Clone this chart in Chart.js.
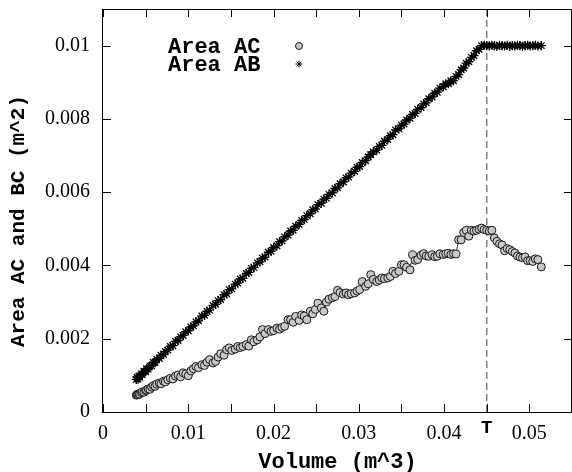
<!DOCTYPE html>
<html><head><meta charset="utf-8">
<script src="https://cdn.jsdelivr.net/npm/chart.js@4/dist/chart.umd.min.js"></script>
<style>html,body{margin:0;padding:0;background:#fff;}#wrap{width:572px;height:472px;position:relative;}</style>
</head><body><div id="wrap"><canvas id="c" width="572" height="472"></canvas></div>
<script>
// ---- data ----
const volume = [
0.0039,0.0040,0.0041,0.0042,0.0043,0.0045,0.0046,0.0048,0.0050,0.0051,0.0053,0.0055,0.0057,0.0059,0.0061,0.0063,0.0066,0.0068,0.0071,0.0073,0.0076,0.0079,0.0082,0.0085,0.0088,0.0091,0.0094,0.0097,0.0100,0.0103,
0.0106,0.0109,0.0112,0.0116,0.0119,0.0122,0.0125,0.0129,0.0132,0.0135,0.0138,0.0142,0.0145,0.0148,0.0151,0.0155,0.0158,0.0161,0.0164,0.0168,
0.0171,0.0174,0.0177,0.0181,0.0184,0.0187,0.0190,0.0194,0.0197,0.0200,0.0204,0.0207,0.0210,0.0213,0.0217,0.0220,0.0223,0.0226,0.0230,0.0233,
0.0236,0.0239,0.0243,0.0246,0.0249,0.0252,0.0256,0.0259,0.0262,0.0265,0.0269,0.0272,0.0275,0.0278,0.0282,0.0285,0.0288,0.0291,0.0295,0.0298,
0.0301,0.0304,0.0308,0.0311,0.0314,0.0317,0.0321,0.0324,0.0327,0.0330,0.0334,0.0337,0.0340,0.0343,0.0347,0.0350,0.0353,0.0356,0.0360,0.0363,
0.0366,0.0369,0.0373,0.0376,0.0379,0.0382,0.0386,0.0389,0.0392,0.0395,0.0399,0.0402,0.0405,0.0408,0.0411,0.0414,0.0417,0.0420,0.0423,0.0426,
0.0429,0.0432,0.0435,0.0438,0.0441,0.0444,0.0447,0.0450,0.0453,0.0456,0.0459,0.0462,0.0465,0.0468,0.0471,0.0474,0.0477,0.0480,0.0483,0.0486,
0.0489,0.0492,0.0495,0.0498,0.0501,0.0504,0.0507,0.0510,0.0514
];
const areaAC = [
0.00046,0.00048,0.00047,0.00050,0.00049,0.00053,0.00055,0.00054,0.00058,0.00060,0.00063,0.00062,0.00068,0.00072,0.00070,0.00076,0.00079,0.00077,0.00084,0.00082,0.00088,0.00092,0.00090,0.00098,0.00101,0.00096,0.00107,0.00104,0.00099,0.00112,
0.00118,0.00124,0.00121,0.00129,0.00127,0.00136,0.00143,0.00134,0.00138,0.00150,0.00159,0.00155,0.00170,0.00175,0.00168,0.00172,0.00179,0.00176,0.00179,0.00184,
0.00180,0.00197,0.00192,0.00197,0.00205,0.00225,0.00214,0.00225,0.00220,0.00222,0.00229,0.00226,0.00231,0.00234,0.00252,0.00252,0.00245,0.00261,0.00250,0.00265,
0.00262,0.00252,0.00275,0.00268,0.00280,0.00297,0.00284,0.00275,0.00300,0.00308,0.00312,0.00315,0.00332,0.00326,0.00322,0.00325,0.00320,0.00323,0.00325,0.00330,
0.00334,0.00356,0.00343,0.00350,0.00375,0.00362,0.00356,0.00360,0.00366,0.00364,0.00366,0.00370,0.00384,0.00378,0.00384,0.00402,0.00402,0.00395,0.00388,0.00429,
0.00414,0.00416,0.00428,0.00432,0.00426,0.00425,0.00429,0.00424,0.00425,0.00432,0.00430,0.00432,0.00433,0.00430,0.00432,0.00431,0.00470,0.00470,0.00490,0.00496,
0.00480,0.00496,0.00494,0.00496,0.00499,0.00502,0.00498,0.00496,0.00494,0.00496,0.00475,0.00466,0.00459,0.00456,0.00440,0.00446,0.00443,0.00438,0.00434,0.00426,
0.00423,0.00421,0.00423,0.00413,0.00413,0.00411,0.00418,0.00416,0.00396
];
const areaAB = [
0.00089,0.00095,0.00090,0.00098,0.00095,0.00104,0.00102,0.00111,0.00110,0.00118,0.00117,0.00126,0.00126,0.00135,0.00135,0.00144,0.00146,0.00155,0.00157,0.00165,0.00169,0.00179,0.00181,0.00193,0.00195,0.00205,0.00209,0.00219,0.00222,0.00232,
0.00235,0.00246,0.00249,0.00262,0.00264,0.00275,0.00278,0.00291,0.00294,0.00304,0.00307,0.00320,0.00323,0.00334,0.00336,0.00349,0.00352,0.00363,0.00365,0.00378,
0.00381,0.00392,0.00394,0.00407,0.00410,0.00420,0.00423,0.00436,0.00439,0.00449,0.00454,0.00465,0.00467,0.00478,0.00483,0.00494,0.00496,0.00507,0.00512,0.00523,
0.00525,0.00536,0.00541,0.00552,0.00554,0.00566,0.00570,0.00581,0.00583,0.00594,0.00598,0.00610,0.00612,0.00623,0.00628,0.00639,0.00641,0.00652,0.00657,0.00668,
0.00670,0.00681,0.00686,0.00696,0.00703,0.00710,0.00715,0.00725,0.00728,0.00739,0.00744,0.00754,0.00757,0.00770,0.00773,0.00783,0.00786,0.00797,0.00802,0.00812,
0.00815,0.00826,0.00831,0.00841,0.00844,0.00855,0.00860,0.00870,0.00873,0.00884,0.00888,0.00896,0.00896,0.00904,0.00904,0.00916,0.00921,0.00934,0.00939,0.00952,
0.00956,0.00968,0.00973,0.00986,0.00990,0.01000,0.01001,0.01000,0.00999,0.01001,0.01000,0.00998,0.01001,0.01000,0.00999,0.01001,0.00998,0.01000,0.00999,0.01001,
0.01000,0.00998,0.01000,0.01001,0.00999,0.01000,0.01001,0.00999,0.01000
];
const transitionVolume = 0.045;           // dashed line "T"
const xTickValues = [0,0.005,0.01,0.015,0.02,0.025,0.03,0.035,0.04,0.045,0.05];
const xTickLabels = ['0','','0.01','','0.02','','0.03','','0.04','T','0.05'];
const yTickValues = [0,0.002,0.004,0.006,0.008,0.01];
const yTickLabels = ['0','0.002','0.004','0.006','0.008','0.01'];
const seriesNames = ['Area AC','Area AB'];
const xTitle = 'Volume (m^3)';
const yTitle = 'Area AC and BC (m^2)';

const MONO = '"Liberation Mono","DejaVu Sans Mono",monospace';
const SERIF = '"Liberation Serif","DejaVu Serif",serif';

const acStyle = {pointStyle:'circle', radius:4, backgroundColor:'#c8c8c8', borderColor:'#1a1a1a', borderWidth:1};
const abStyle = {pointStyle:'star', radius:4.6, backgroundColor:'#000', borderColor:'#000', borderWidth:1.3};

const framePlugin = {
  id:'frame',
  afterDatasetsDraw(chart){
    const {ctx, chartArea:a, scales:{x, y}} = chart;
    ctx.save();
    ctx.strokeStyle = '#000';
    ctx.lineWidth = 1;
    ctx.beginPath();
    xTickValues.forEach(v => {
      const px = Math.round(x.getPixelForValue(v)) + 0.5;
      ctx.moveTo(px, a.bottom); ctx.lineTo(px, a.bottom - 8);
      ctx.moveTo(px, a.top); ctx.lineTo(px, a.top + 8);
    });
    yTickValues.forEach(v => {
      const py = Math.round(y.getPixelForValue(v)) + 0.5;
      ctx.moveTo(a.left, py); ctx.lineTo(a.left + 8, py);
      ctx.moveTo(a.right, py); ctx.lineTo(a.right - 8, py);
    });
    ctx.stroke();
    ctx.strokeRect(a.left - 0.5, a.top + 0.5, a.right - a.left, a.bottom - a.top);
    // legend
    ctx.font = 'bold 22px ' + MONO;
    ctx.fillStyle = '#000';
    ctx.textAlign = 'left';
    ctx.textBaseline = 'middle';
    const lx = 168, mx = 299, ly = [46, 64];
    [acStyle, abStyle].forEach((st, i) => {
      ctx.fillText(seriesNames[i], lx, ly[i] + 1);
      ctx.fillStyle = st.backgroundColor; ctx.strokeStyle = st.borderColor; ctx.lineWidth = 1;
      Chart.helpers.drawPoint(ctx, {pointStyle:st.pointStyle, radius:3.5, borderWidth:1, rotation:0}, mx, ly[i]);
      ctx.fillStyle = '#000';
    });
    // y axis title (rotated)
    ctx.save();
    ctx.font = 'bold 21px ' + MONO;
    ctx.textAlign = 'center';
    ctx.translate(19, 221);
    ctx.rotate(-Math.PI / 2);
    ctx.fillText(yTitle, 0, 0);
    ctx.restore();
    ctx.restore();
  }
};

function noPad(s){ s.paddingTop = 0; s.paddingBottom = 0; s.paddingLeft = 0; s.paddingRight = 0; }

new Chart(document.getElementById('c').getContext('2d'), {
  type:'scatter',
  data:{datasets:[
    {label:seriesNames[0], data:volume.map((v,i)=>({x:v, y:areaAC[i]})), showLine:true,
     borderColor:'#000', borderWidth:0.8, pointStyle:acStyle.pointStyle, pointRadius:acStyle.radius,
     pointBackgroundColor:acStyle.backgroundColor, pointBorderColor:acStyle.borderColor, pointBorderWidth:acStyle.borderWidth, order:2},
    {label:seriesNames[1], data:volume.map((v,i)=>({x:v, y:areaAB[i]})), showLine:true,
     borderColor:'#000', borderWidth:0.8, pointStyle:abStyle.pointStyle, pointRadius:abStyle.radius,
     pointBackgroundColor:'#000', pointBorderColor:abStyle.borderColor, pointBorderWidth:abStyle.borderWidth, order:1},
    {type:'line', label:'T', data:[{x:transitionVolume, y:0},{x:transitionVolume, y:0.011}],
     borderColor:'#808080', borderDash:[7,4], borderWidth:1.5, pointRadius:0, order:3}
  ]},
  options:{
    responsive:false, animation:false, devicePixelRatio:1,
    layout:{autoPadding:false, padding:{left:0, top:9, right:0, bottom:0}},
    plugins:{legend:{display:false}, tooltip:{enabled:false}},
    scales:{
      x:{type:'linear', min:0, max:0.055,
        grid:{display:false, drawTicks:false}, border:{display:false},
        afterFit(s){ s.height = 60; noPad(s); },
        afterBuildTicks(s){ s.ticks = xTickValues.map(v => ({value:v})); },
        ticks:{autoSkip:false, maxRotation:0, minRotation:0, padding:10, color:'#000',
          callback(v, i){ const k = xTickValues.findIndex(t => Math.abs(t - v) < 1e-9); return k >= 0 ? xTickLabels[k] : ''; },
          font(c){ const v = c.tick ? c.tick.value : 0;
            return Math.abs(v - transitionVolume) < 1e-9 ? {family:MONO, size:19, weight:'bold', lineHeight:0.7} : {family:SERIF, size:20}; }
        },
        title:{display:true, text:xTitle, color:'#000', font:{family:MONO, size:22, weight:'bold', lineHeight:1}, padding:{top:0, bottom:-1}}
      },
      y:{type:'linear', min:0, max:0.011,
        grid:{display:false, drawTicks:false}, border:{display:false},
        afterFit(s){ s.width = 103; noPad(s); },
        afterBuildTicks(s){ s.ticks = yTickValues.map(v => ({value:v})); },
        ticks:{padding:13, color:'#000', font:{family:SERIF, size:20},
          callback(v){ const k = yTickValues.findIndex(t => Math.abs(t - v) < 1e-9); return k >= 0 ? yTickLabels[k] : ''; }
        },
        title:{display:false}
      }
    }
  },
  plugins:[framePlugin]
});
</script></body></html>
